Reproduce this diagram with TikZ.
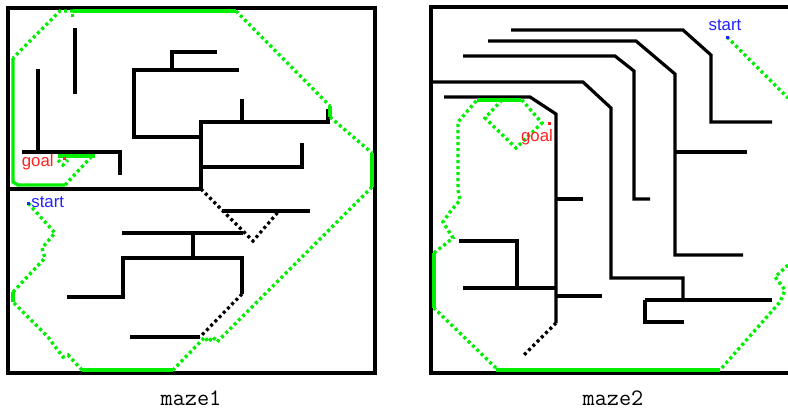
\documentclass[tikz,border=0pt]{standalone}
\usepackage{fontspec}
\newfontfamily\markfont{Liberation Sans}
\usepackage{tikz}
\usetikzlibrary{calc}
\definecolor{trail}{HTML}{00EE00}
\definecolor{startblue}{HTML}{2222FF}
\definecolor{goalred}{HTML}{FF2020}
\tikzset{
  mframe/.style={line width=2pt,draw=black},
  mwall/.style={line width=1.6pt,draw=black},
  mdots/.style={line width=1.6pt,draw=black,dash pattern=on 1.5pt off 1.5pt},
  mtrail/.style={line width=1.7pt,draw=trail},
  mtrailed/.style={line width=1.7pt,draw=trail,dash pattern=on 1.5pt off 1.5pt},
  mlabel/.style={font=\fontsize{11.8}{14}\selectfont\ttfamily},
  mmark/.style={font=\markfont\fontsize{8.4}{9}\selectfont,inner sep=0pt}
}

\begin{document}
\begin{tikzpicture}[x=0.5pt,y=-0.5pt]
  \useasboundingbox (0,0) rectangle (788,408);
  % maze1
  \draw[mframe] (8,8) rectangle (375,373);
  \draw[mwall] (8,189) -- (201,189) -- (201,122) -- (328,122) -- (328,109);
  \draw[mwall] (242,99) -- (242,122);
  \draw[mwall] (201,167) -- (302,167) -- (302,143);
  \draw[mwall] (201,137) -- (134,137) -- (134,70) -- (239,70);
  \draw[mwall] (172,70) -- (172,52) -- (217,52);
  \draw[mwall] (75,28) -- (75,94);
  \draw[mwall] (38,69) -- (38,152);
  \draw[mwall] (22,152) -- (120,152) -- (120,175);
  \draw[mwall] (222,211) -- (310,211);
  \draw[mdots] (201,189) -- (253,241) -- (279,211);
  \draw[mwall] (122,233) -- (243,233);
  \draw[mwall] (193,233) -- (193,258);
  \draw[mwall] (67,297) -- (123,297) -- (123,258) -- (242,258) -- (242,294);
  \draw[mdots] (242,294) -- (200,337);
  \draw[mwall] (130,337) -- (200,337);
  \draw[mtrail] (73,11) -- (236,11);
  \draw[mtrailed] (236,11) -- (330,106);
  \draw[mtrail] (330,106) -- (330,117);
  \draw[mtrailed] (330,117) -- (372,153);
  \draw[mtrail] (372,153) -- (372,187);
  \draw[mtrailed] (372,187) -- (222,337) -- (217,342) -- (213,337) -- (208,342) -- (205,337) -- (173,370);
  \draw[mtrail] (173,370) -- (82,370);
  \draw[mtrailed] (82,370) -- (68,355) -- (63,357) -- (48,337) -- (13,302);
  \draw[mtrail] (13,302) -- (13,292);
  \draw[mtrailed] (13,292) -- (45,258) -- (42,248) -- (55,233) -- (28,203);
  \draw[mtrailed] (73,11) -- (60,11) -- (13,58);
  \draw[mtrail] (13,58) -- (13,182) -- (18,185) -- (65,185);
  \draw[mtrailed] (65,185) -- (92,156);
  \draw[mtrail] (58,156) -- (95,156);
  \draw[mtrailed] (58,160) -- (63,165) -- (68,160);
  \fill[trail] (71,13.5) rectangle ++(3,3);
  \fill[startblue] (26.5,201.5) rectangle ++(3,3);
  \node[mmark,text=startblue,anchor=west] (start1) at (31,202) {start};
  \fill[goalred] (62.5,156.5) rectangle ++(3,3);
  \node[mmark,text=goalred,anchor=east] (goal1) at (54,162) {goal};
  \node[mlabel] (cap1) at (191,398) {maze1};
  % maze2
  \draw[mframe] (788,7) -- (431,7) -- (431,373) -- (788,373);
  \draw[mwall] (431,82) -- (583,82) -- (611,108) -- (611,278) -- (683,278) -- (683,300);
  \draw[mwall] (645,300) -- (772,300);
  \draw[mwall] (645,300) -- (645,322) -- (684,322);
  \draw[mwall] (511,30) -- (683,30) -- (711,55) -- (711,122) -- (772,122);
  \draw[mwall] (488,41) -- (636,41) -- (675,74) -- (675,255) -- (743,255);
  \draw[mwall] (675,152) -- (747,152);
  \draw[mwall] (463,56) -- (615,56) -- (634,71) -- (634,199) -- (650,199);
  \draw[mwall] (444,97) -- (530,97) -- (556,114) -- (556,323);
  \draw[mdots] (556,323) -- (523,356);
  \draw[mwall] (556,199) -- (583,199);
  \draw[mwall] (556,296) -- (602,296);
  \draw[mwall] (463,288) -- (556,288);
  \draw[mwall] (459,241) -- (517,241) -- (517,288);
  \draw[mtrailed] (727,37) -- (788,98);
  \draw[mtrailed] (788,265) -- (775,277) -- (785,290) -- (780,302) -- (720,370);
  \draw[mtrail] (720,370) -- (496,370);
  \draw[mtrailed] (496,368) -- (434,308);
  \draw[mtrail] (434,308) -- (434,253);
  \draw[mtrailed] (434,253) -- (453,238) -- (443,222) -- (450,212) -- (460,200) -- (458,190) -- (458,122) -- (477,100);
  \draw[mtrail] (477,100) -- (521,100);
  \draw[mtrailed] (502,100) -- (485,118) -- (516,148) -- (542,123) -- (522,100);
  \fill[startblue] (725.5,35.5) rectangle ++(3,3);
  \node[mmark,text=startblue] (start2) at (725,25) {start};
  \fill[goalred] (547.5,121.5) rectangle ++(3,3);
  \node[mmark,text=goalred] (goal2) at (537,137) {goal};
  \node[mlabel] (cap2) at (613,398) {maze2};
\end{tikzpicture}
\end{document}
